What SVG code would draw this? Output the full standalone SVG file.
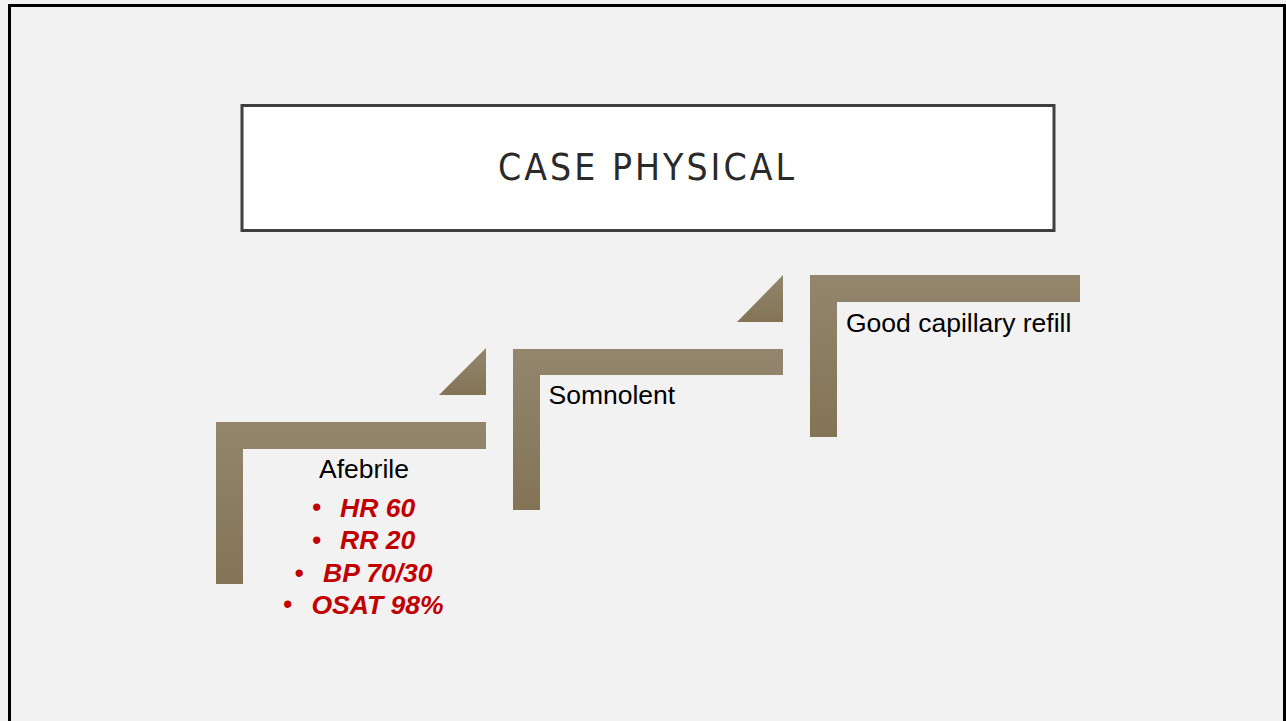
<svg xmlns="http://www.w3.org/2000/svg" width="1286" height="721" viewBox="0 0 1286 721">
  <defs>
    <linearGradient id="bronze" x1="0" y1="0" x2="0" y2="1">
      <stop offset="0" stop-color="#93866d"/>
      <stop offset="1" stop-color="#837456"/>
    </linearGradient>
    <style>
      .bar { fill: url(#bronze); }
      .label { font-family: "Liberation Sans", Arial, sans-serif; font-size: 26.5px; fill: #000; }
      .vital { font-family: "Liberation Sans", Arial, sans-serif; font-size: 26.5px; fill: #c00000; font-weight: bold; font-style: italic; }
      .dot { font-family: "Liberation Sans", Arial, sans-serif; font-size: 27px; fill: #c00000; }
      .title { font-family: "Liberation Sans Narrow", "DejaVu Sans Condensed", "Liberation Sans", sans-serif; font-size: 37px; fill: #2a2a2a; }
    </style>
  </defs>

  <!-- slide background and frame -->
  <rect x="0" y="0" width="1286" height="721" fill="#f2f2f2"/>
  <rect x="9.5" y="5.5" width="1275" height="740" fill="none" stroke="#000" stroke-width="3"/>

  <!-- title banner -->
  <g id="title">
    <rect x="242" y="105.5" width="812" height="125" fill="#fff" stroke="#404040" stroke-width="3"/>
    <text class="title" x="498" y="180" textLength="296" lengthAdjust="spacing">CASE PHYSICAL</text>
  </g>

  <!-- step connectors: small triangles between the steps -->
  <g id="connectors">
    <polygon class="bar" points="439,395 486,348 486,395"/>
    <polygon class="bar" points="737,322 783,275 783,322"/>
  </g>

  <!-- step 1 -->
  <g id="step-afebrile">
    <path class="bar" d="M216,422 H486 V449 H243 V584 H216 Z"/>
    <text class="label" x="364" y="478" text-anchor="middle">Afebrile</text>
    <text class="dot" x="312" y="516">•</text>
    <text class="vital" x="340" y="516.5">HR 60</text>
    <text class="dot" x="312" y="549">•</text>
    <text class="vital" x="340" y="549">RR 20</text>
    <text class="dot" x="294.5" y="581.5">•</text>
    <text class="vital" x="323" y="581.5">BP 70/30</text>
    <text class="dot" x="283" y="613">•</text>
    <text class="vital" x="311.5" y="613.5">OSAT 98%</text>
  </g>

  <!-- step 2 -->
  <g id="step-somnolent">
    <path class="bar" d="M513,349 H783 V375 H540 V510 H513 Z"/>
    <text class="label" x="548.5" y="404">Somnolent</text>
  </g>

  <!-- step 3 -->
  <g id="step-refill">
    <path class="bar" d="M810,275 H1080 V302 H837 V437 H810 Z"/>
    <text class="label" x="846" y="331.5">Good capillary refill</text>
  </g>
</svg>
